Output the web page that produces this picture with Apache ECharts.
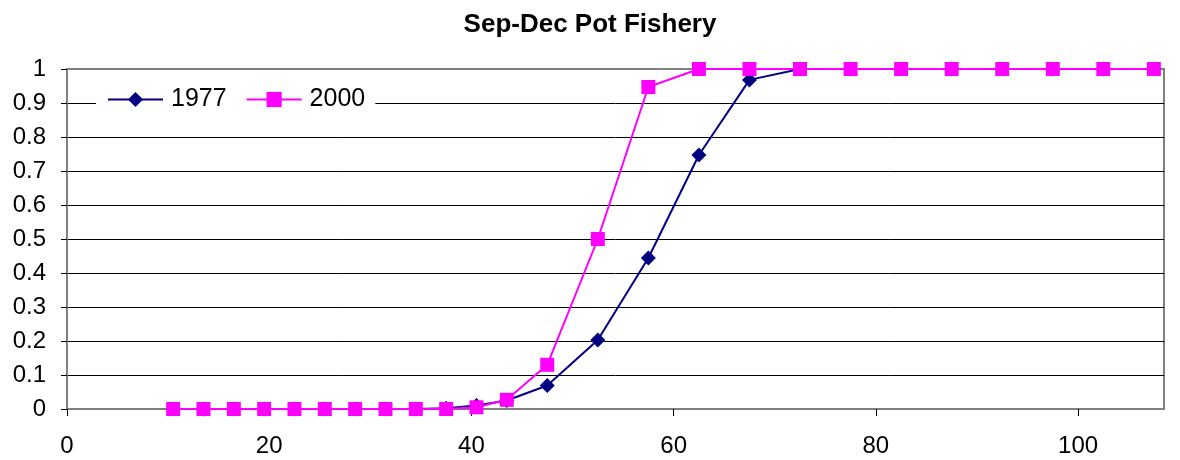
<!DOCTYPE html>
<html>
<head>
<meta charset="utf-8">
<script src="https://cdn.jsdelivr.net/npm/echarts@6/dist/echarts.min.js"></script>
<style>html,body{margin:0;padding:0;background:#fff}#c{width:1180px;height:460px}</style>
</head>
<body>
<div id="c"></div>
<script>
const lengths = [10.5, 13.5, 16.5, 19.5, 22.5, 25.5, 28.5, 31.5, 34.5, 37.5, 40.5, 43.5, 47.5, 52.5, 57.5, 62.5, 67.5, 72.5, 77.5, 82.5, 87.5, 92.5, 97.5, 102.5, 107.5];
const sel1977 = [0, 0, 0, 0, 0, 0, 0, 0, 0, 0.002, 0.01, 0.025, 0.069, 0.203, 0.444, 0.747, 0.968, 1, 1, 1, 1, 1, 1, 1, 1];
const sel2000 = [0, 0, 0, 0, 0, 0, 0, 0, 0, 0, 0.005, 0.027, 0.13, 0.5, 0.947, 1, 1, 1, 1, 1, 1, 1, 1, 1, 1];
const seriesNames = ['1977', '2000'];
const xTicks = [0, 20, 40, 60, 80, 100];

const font = 'Liberation Sans, Arial, sans-serif';
const chart = echarts.init(document.getElementById('c'));
chart.setOption({
  animation: false,
  backgroundColor: '#fff',
  title: {
    text: 'Sep-Dec Pot Fishery', left: 'center', top: 7,
    textStyle: { fontFamily: font, fontSize: 26, fontWeight: 'bold', color: '#000' }
  },
  legend: {
    left: 96, top: 86, itemWidth: 55, itemHeight: 19, itemGap: 19,
    backgroundColor: '#fff', padding: [1, 10, 1, 11],
    textStyle: { fontFamily: font, fontSize: 25, color: '#000', padding: [0, 0, 0, 3] },
    data: seriesNames
  },
  grid: { left: 67, right: 16, top: 69, bottom: 51, show: true, borderColor: '#808080', borderWidth: 2 },
  xAxis: {
    type: 'value', min: 0, max: 108.5, interval: 20,
    axisLine: { lineStyle: { color: '#808080', width: 2 } },
    axisTick: { length: 7, lineStyle: { color: '#000' }, customValues: xTicks },
    axisLabel: { fontFamily: font, fontSize: 24, color: '#000', margin: 25, customValues: xTicks,
      formatter: v => (xTicks.indexOf(v) >= 0 ? String(v) : '') },
    splitLine: { show: false }
  },
  yAxis: {
    type: 'value', min: 0, max: 1, interval: 0.1,
    axisLine: { show: true, lineStyle: { color: '#808080', width: 2 } },
    axisTick: { show: true, length: 6, lineStyle: { color: '#000' } },
    axisLabel: { fontFamily: font, fontSize: 24, color: '#000', margin: 21, formatter: v => String(+v.toFixed(1)) },
    splitLine: { show: true, showMinLine: false, showMaxLine: false, lineStyle: { color: '#000', width: 1 } }
  },
  series: [
    {
      name: seriesNames[0], type: 'line', symbol: 'diamond', symbolSize: 15,
      lineStyle: { color: '#000080', width: 2 }, itemStyle: { color: '#000080' },
      data: lengths.map((x, i) => [x, sel1977[i]]), z: 2
    },
    {
      name: seriesNames[1], type: 'line', symbol: 'rect', symbolSize: 14,
      lineStyle: { color: '#FF00FF', width: 2 }, itemStyle: { color: '#FF00FF' },
      data: lengths.map((x, i) => [x, sel2000[i]]), z: 3
    }
  ]
});
</script>
</body>
</html>
